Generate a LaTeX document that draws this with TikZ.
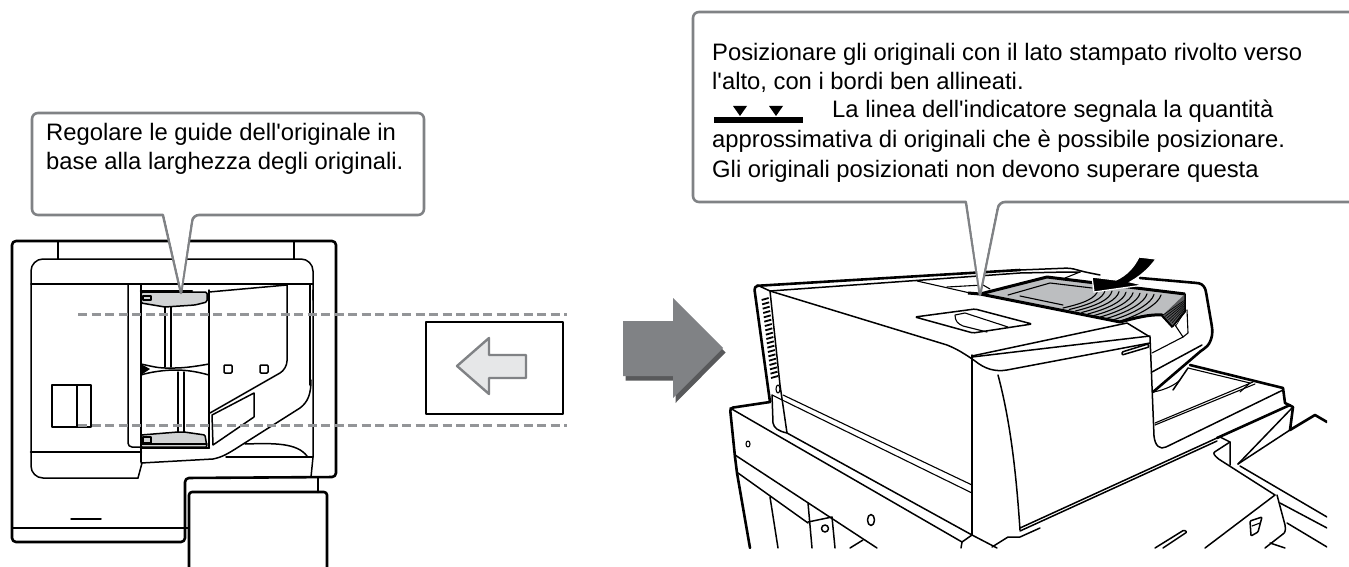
\documentclass[tikz,border=0pt]{standalone}
\usepackage{fontspec}
\setmainfont{Liberation Sans}
\newfontfamily\calloutfont{Liberation Sans}
\definecolor{callgray}{HTML}{808285}
\definecolor{dashgray}{HTML}{939598}
\definecolor{papergray}{HTML}{BCBEC0}
\definecolor{guidegray}{HTML}{D1D3D4}
\definecolor{arrowlight}{HTML}{E6E7E8}
\definecolor{arrowdark}{HTML}{58595B}
\tikzset{
 thinl/.style={line width=1.1pt,line join=round,line cap=round},
 med/.style={line width=1.5pt,line join=round,line cap=round},
 thick2/.style={line width=2.6pt,line join=round,line cap=round},
 callout/.style={draw=callgray,fill=white,line width=2.6pt,line join=round,rounded corners=6pt},
 calltext/.style={anchor=base west,inner sep=0pt,font=\calloutfont\fontsize{23.8}{28}\selectfont},
 dashl/.style={draw=dashgray,line width=3pt,dash pattern=on 9pt off 4.5pt},
}
\begin{document}
\begin{tikzpicture}[x=1pt,y=-1pt]
\useasboundingbox (0,0) rectangle (1349,567);
% ---------- left machine
\draw[thick2,rounded corners=4pt] (185,542) -- (12,542) -- (12,241) -- (336,241) -- (336,477) -- (185,478) -- cycle;
\draw[thinl] (58,241) -- (58,259) (294,241) -- (294,259);
\draw[med,rounded corners=12pt] (138,478) -- (31,478) -- (31,259) -- (313,259) -- (313,300);
\draw[med] (313,290) -- (313,457) -- (311,477);
\draw[med] (310,284) -- (310,385);
\draw[med] (31,284) -- (313,284);
\draw[thick2] (31,452) -- (141,452);
\draw[med,rounded corners=4pt] (128,284) -- (128,447) -- (141,447);
\draw[med] (141,284) -- (141,462);
\draw[med] (209,290) -- (209,448);
\draw[med] (209,292) -- (287,285);
\draw[med,rounded corners=8pt] (287,284) -- (287,369) -- (210,413);
\draw[med] (141,463) -- (213,459) .. controls (222,457) and (226,455) .. (240,446) -- (300,408) .. controls (308,402) and (311,394) .. (311,380);
\draw[med] (212,415) -- (254,393) -- (254,417) -- (213,445) -- cycle;
\draw[med] (245,444) .. controls (275,443) and (297,443) .. (307,456);
\draw[med] (226,457) -- (313,457);
\draw[med] (142,463) -- (138,478);
\draw[med,rounded corners=1pt] (224,365) rectangle (232,373);
\draw[med,rounded corners=1pt] (260,365) rectangle (268,373);
\draw[med] (52,385) rectangle (91,427);
\draw[line width=1.9pt] (77,385) -- (77,427);
% upper guide
\draw[med,fill=guidegray,rounded corners=1.5pt] (141,292) -- (207,292) -- (207,302) -- (195,305) -- (165,307) -- (141,303) -- cycle;
\draw[thick2] (141,291) -- (192,291);
\draw[thinl] (143,296) rectangle (151,300);
\draw[med] (165,307) -- (165,367) (171,307) -- (171,367);
\draw[med] (141,364) .. controls (150,366) and (158,368) .. (165,368) -- (175,368) .. controls (185,368) and (198,366) .. (209,364);
\fill[black] (141,364) -- (150,369) -- (141,375) -- cycle;
\draw[med] (141,375) .. controls (150,372) and (165,370) .. (175,370) .. controls (188,370) and (198,372) .. (209,375);
\draw[med] (178,372) -- (178,432) (184,372) -- (184,432);
\draw[med,fill=guidegray,rounded corners=1pt] (141,435) -- (178,432) -- (184,432) -- (205,435) -- (207,447) -- (141,447) -- cycle;
\draw[thinl] (143,437) rectangle (151,443);
\draw[thick2] (141,448) -- (209,448);
\draw[med] (141,444) -- (207,444);
% stand
\draw[thick2,rounded corners=3pt] (189,567) -- (189,492) -- (327,492) -- (327,567);
\draw[thick2] (318,478) -- (318,492);
\draw[med] (12,528) -- (189,528);
\draw[med] (71,519) -- (101,519);
% dashes and window
\draw[dashl] (78,314) -- (567,314);
\draw[dashl] (78,425) -- (567,425);
\draw[thick2,fill=white] (426,322) rectangle (563,414);
\draw[draw=callgray,fill=arrowlight,line width=2.4pt,line join=round] (457,366) -- (489,338) -- (489,355) -- (526,355) -- (526,378) -- (489,378) -- (489,394) -- cycle;
% big arrow
\fill[arrowdark] (625.5,325) -- (675.5,325) -- (675.5,302.5) -- (725.5,352.5) -- (675.5,403) -- (675.5,380.5) -- (625.5,380.5) -- cycle;
\fill[callgray] (623,321) -- (673,321) -- (673,298) -- (723,348) -- (673,398) -- (673,376) -- (623,376) -- cycle;
% ---------- right machine
\begin{scope}
\clip (700,200) rectangle (1327,548);
% outer cover
\draw[thick2,rounded corners=3pt] (770,402) -- (730,408) -- (735,457);
\draw[thick2] (735,457) -- (737,473) -- (750,548);
\draw[thick2,rounded corners=4pt] (770,402) -- (754,286) -- (1020,270);
\draw[med,rounded corners=4pt] (1020,270) -- (1070,268) -- (1085,272) -- (1100,275);
\draw[thick2,rounded corners=2pt] (1140,278) -- (1197,283) .. controls (1203,284) and (1205,288) .. (1206,292) -- (1212,327) .. controls (1213,338) and (1209,346) .. (1202,350) -- (1153,392);
\draw[med] (757,285) -- (770,291) -- (1020,273) -- (1068,272) -- (1080,272);
\draw[thinl] (1065,278) -- (1080,272);
\draw[med] (770,291) -- (780,385) -- (787,433);
\foreach \yy in {300,313,...,540}{
 \draw[line width=1.8pt] ({720+(125+(\yy-300)*0.12)/3},{200+\yy/3}) -- ++(7,-2);
}
\draw[thinl] (778,389) ellipse (2 and 4);
\draw[med] (770,291) -- (947,345) .. controls (957,349) and (965,354) .. (975,361) .. controls (985,369) and (995,372) .. (1007,370) -- (1150,343);
\draw[med] (972,357) -- (1150,336);
\draw[med] (972,355) -- (972,535);
\draw[med] (972,356) -- (1127,323) -- (1150,337) -- (1154,436);
\draw[med] (1154,436) .. controls (1155,446) and (1160,450) .. (1166,447) -- (1283,390);
% hand tab
\draw[med,rounded corners=1.5pt] (915,317) -- (975,309) -- (1032,324) -- (973,333) -- cycle;
\draw[thinl] (1008,327) -- (965,313) -- (955,315) .. controls (955,321) and (958,324) .. (963,326) -- (987,332);
% tray front
\draw[thinl] (917,281) -- (970,293);
\draw[thinl] (947,287) -- (983,285) -- (990,289);
% paper stack
\fill[papergray] (980,294) -- (1047,277) -- (1185,294) -- (1183,312) -- (1163,315) .. controls (1150,314) and (1135,318) .. (1120,322) -- cycle;
\draw[line width=3pt,line join=round] (968,293) -- (980,294) -- (1047,277) -- (1185,294);
\draw[line width=3pt,line join=round] (980,294) -- (1120,322) .. controls (1135,318) and (1150,314) .. (1162,315) -- (1173,327);
\draw[thinl] (1008,295) -- (1050,283) -- (1092,288);
\draw[thinl] (1020,296) -- (1063,305);
\foreach \i in {0,...,9}{
 \draw[thinl] ({1063+\i*6.2},{308+\i*1.5}) .. controls ({1085+\i*6.2},{303+\i*1.3}) and ({1096+\i*7},{298+\i*.6}) .. ({1098+\i*7},{290+\i*.55});
}
\fill[arrowdark] (1185,294) -- (1185,312) -- (1173,326) -- (1163,315) -- cycle;
\foreach \i in {0,...,7}{\draw[line width=.6pt] ({1163+\i*1.8},{315+\i*1.6}) -- (1185,{300+\i*1.6});}
\draw[med] (1185,294) -- (1185,312) -- (1173,326);
% curved black arrow
\fill[black,draw=white,line width=1.2pt] (1092,277) -- (1116,280) .. controls (1127,275) and (1134,267) .. (1139,257) -- (1156,259) .. controls (1148,270) and (1139,277) .. (1130,282) -- (1143,285) -- (1094,292) -- cycle;
% right inner
\draw[thinl] (1187,310) -- (1188,333) -- (1183,337) -- (1175,325);
\draw[thinl] (1152,353) -- (1183,337);
\draw[med] (1152,372) -- (1202,345);
\draw[med,rounded corners=1pt] (1122,352) -- (1148,344) -- (1149,347) -- (1122,355) -- cycle;
\draw[thick2] (1190,365) -- (1283,388);
\draw[thinl] (1188,368) -- (1250,383);
\draw[thinl] (1250,383) -- (1240,392);
\draw[med] (1173,390) -- (1188,368);
\draw[thick2] (1283,388) -- (1285,403) -- (1293,407) -- (1290,430) -- (1315,415) -- (1327,422);
\draw[thinl] (1153,392) .. controls (1165,390) and (1175,385) .. (1180,380);
\draw[thinl] (1155,423) -- (1253,382) (1155,425) -- (1255,384);
\draw[med] (1020,528) -- (1217,438) (1020,531) -- (1217,441);
\draw[thick2] (1217,438) -- (1290,405);
\draw[med] (1220,437) -- (1230,442) -- (1230,465);
\draw[med,rounded corners=2pt] (1230,442) -- (1213,453) -- (1217,458) -- (1275,495);
\draw[med] (1238,464) -- (1292,408);
\draw[med] (1238,464) -- (1293,428);
\draw[med] (1240,466) -- (1327,517);
\draw[med] (1280,503) -- (1327,528);
\draw[med] (1287,523) -- (1327,547);
\draw[med] (1277,495) -- (1285,525) .. controls (1286,530) and (1285,533) .. (1283,534) -- (1265,548);
\draw[med] (1270,543) -- (1285,548);
\draw[med] (1275,495) -- (1205,548);
\draw[med,rounded corners=1pt] (1250,521) -- (1262,517) -- (1258,532) -- (1251,536) -- cycle;
\draw[thinl] (1252,526) -- (1260,523);
\draw[med,rounded corners=1pt] (1155,548) -- (1184,530) -- (1187,532) -- (1163,548);
% front-left band
\draw[thinl] (783,395) -- (972,485);
\draw[thinl] (772,395) -- (972,493);
\draw[med] (772,395) -- (773,423) .. controls (774,428) and (778,431) .. (787,433) -- (972,535);
\draw[med] (730,408) -- (962,542);
\draw[med] (735,455) -- (877,548);
\draw[med] (738,473) -- (808,523);
\draw[med] (808,503) -- (812,548);
\draw[med] (808,522) -- (832,517) -- (835,548);
\draw[med] (770,497) -- (778,548);
\draw[med] (863,540) -- (850,548);
\draw[med] (962,542) -- (972,535);
\draw[med] (962,542) -- (961,548);
\draw[med] (972,535) -- (997,548);
\draw[med] (998,375) .. controls (1010,420) and (1016,470) .. (1020,530);
\draw[med] (992,547) -- (1008,537) -- (1020,537) -- (1040,528);
\draw[thinl] (748,444) ellipse (2 and 3);
\draw[med] (871,520) ellipse (3.5 and 5.5);
\draw[med] (825,528.5) ellipse (3.5 and 3.5);
\end{scope}
% ---------- callouts
\draw[callout] (163,215) -- (32,215) -- (32,113) -- (424,113) -- (424,215) -- (193,215) [sharp corners] -- (181,293) -- cycle;
\fill[white] (164,213) -- (192,213) -- (181,288) -- cycle;
\node[calltext] (lefta) at (46,140) {Regolare le guide dell'originale in};
\node[calltext] (leftb) at (46,169) {base alla larghezza degli originali.};
\begin{scope}
\clip (680,0) rectangle (1349,300);
\draw[callout] (966,202) -- (693,202) -- (693,12) -- (1370,12) -- (1370,202) -- (999,202) [sharp corners] -- (980,295) -- cycle;
\fill[white] (967,200) -- (998,200) -- (980,290) -- cycle;
\end{scope}
\node[calltext] (ra) at (712,61) {Posizionare gli originali con il lato stampato rivolto verso};
\node[calltext] (rb) at (712,90) {l'alto, con i bordi ben allineati.};
\node[calltext] (rc) at (832,118) {La linea dell'indicatore segnala la quantità};
\node[calltext] (rd) at (712,147) {approssimativa di originali che è possibile posizionare.};
\node[calltext] (re) at (712,177) {Gli originali posizionati non devono superare questa};
\fill[black] (714,117) rectangle (803,123);
\fill[black] (733,106) -- (747,106) -- (740,116) -- cycle;
\fill[black] (769,106) -- (783,106) -- (776,116) -- cycle;
\end{tikzpicture}
\end{document}
